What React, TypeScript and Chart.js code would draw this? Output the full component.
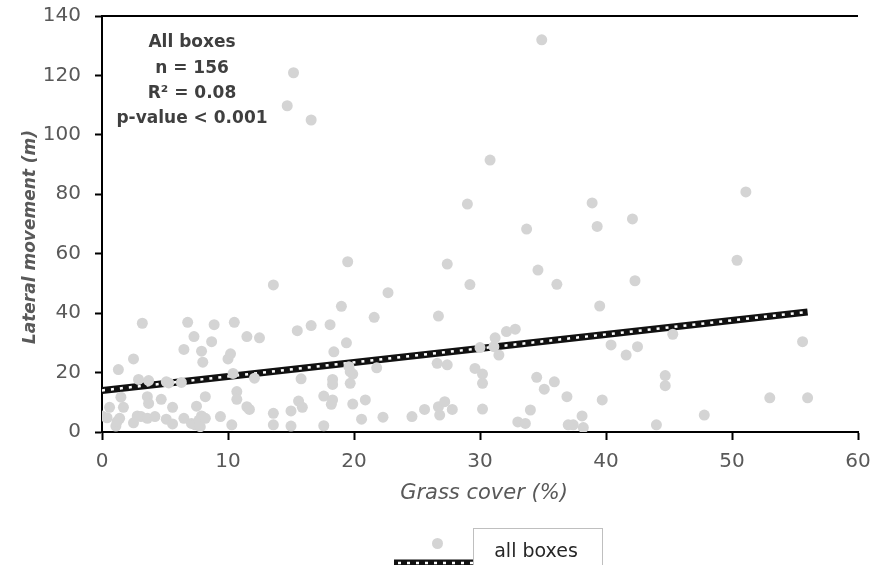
import { useEffect, useRef } from 'react';
import { Chart, registerables } from 'chart.js';

Chart.register(...registerables);

// Grass cover (%) for each box
const grassCover: number[] = [
  34.9, 15.2, 14.7, 16.6, 30.8, 51.1, 38.9, 29.0, 42.1, 33.7, 39.3, 19.5, 50.4, 27.4, 34.6, 13.6,
  29.2, 36.1, 42.3, 22.7, 19.0, 39.5, 21.6, 26.7,
  3.2, 6.8, 8.9, 10.5, 7.3, 8.7, 11.5, 12.5, 6.5, 7.9, 8.0, 10.0, 10.2, 2.5, 1.3, 2.9, 3.7, 5.1,
  5.3, 6.3, 10.4, 12.1, 1.5, 3.6, 3.7, 4.7, 8.2, 10.7, 10.7, 11.5, 11.7, 0.6, 1.7, 5.6, 7.5, 7.9,
  0.0, 0.4, 1.4, 2.8, 3.1, 3.6, 4.2, 2.5, 1.1, 1.2, 5.1, 5.6, 6.5, 7.1, 7.4, 7.7, 8.2, 7.8, 9.4,
  10.3, 13.6, 13.6,
  15.5, 16.6, 18.1, 19.4, 18.4, 19.6, 19.9, 19.7, 21.8, 26.6, 27.4, 15.8, 18.3, 18.3, 19.7, 15.0,
  15.6, 15.9, 17.6, 18.3, 18.2, 19.9, 20.9, 15.0, 17.6, 20.6, 22.3, 24.6, 25.6, 26.7, 27.2, 26.8,
  27.8,
  32.1, 32.8, 31.2, 30.0, 31.1, 31.5, 40.4, 41.6, 42.5, 29.6, 30.2, 30.2, 34.5, 35.9, 35.1, 36.9,
  39.7, 30.2, 34.0, 33.0, 33.6, 37.0, 37.4, 38.1, 38.2, 44.0,
  45.3, 55.6, 44.7, 44.7, 47.8, 53.0, 56.0,
];

// Lateral movement (m) for each box
const lateralMovement: number[] = [
  132.0, 120.9, 109.8, 105.0, 91.5, 80.8, 77.1, 76.7, 71.7, 68.3, 69.2, 57.3, 57.8, 56.5, 54.5, 49.5,
  49.6, 49.7, 50.9, 46.9, 42.3, 42.4, 38.6, 39.0,
  36.6, 36.9, 36.1, 36.9, 32.1, 30.4, 32.1, 31.7, 27.8, 27.2, 23.5, 24.6, 26.3, 24.6, 21.0, 17.7,
  17.3, 16.9, 16.5, 16.7, 19.7, 18.1, 11.7, 11.9, 9.6, 11.0, 11.9, 13.6, 11.0, 8.5, 7.6, 8.3, 8.3,
  8.3, 8.7, 5.4, 5.4, 4.8, 4.6, 5.4, 5.2, 4.6, 5.2, 3.1, 2.0, 3.5, 4.3, 2.7, 4.6, 2.9, 2.4, 4.0,
  4.6, 1.8, 5.2, 2.4, 6.3, 2.4,
  34.1, 35.8, 36.1, 30.0, 27.0, 22.0, 19.5, 20.3, 21.6, 23.1, 22.6, 17.9, 17.7, 16.0, 16.4, 7.1,
  10.4, 8.3, 12.1, 10.8, 9.3, 9.4, 10.8, 2.0, 2.1, 4.3, 5.0, 5.2, 7.6, 8.5, 10.2, 5.7, 7.6,
  33.8, 34.6, 31.7, 28.4, 28.7, 25.9, 29.3, 25.9, 28.7, 21.4, 19.5, 16.4, 18.4, 16.9, 14.4, 11.9,
  10.8, 7.7, 7.4, 3.4, 2.9, 2.4, 2.4, 5.4, 1.5, 2.4,
  32.9, 30.4, 19.0, 15.6, 5.7, 11.5, 11.5,
];

// Linear trend line end points
const trendX: number[] = [0, 56];
const trendY: number[] = [14.0, 40.4];

const xRange: number[] = [0, 60, 10];
const yRange: number[] = [0, 140, 20];

const annotationLines: string[] = ['All boxes', 'n = 156', 'R\u00b2 = 0.08', 'p-value < 0.001'];
const xTitle = 'Grass cover (%)';
const yTitle = 'Lateral movement (m)';
const legendLabel = 'all boxes';

const FONT = '"DejaVu Sans", "Liberation Sans", sans-serif';
const POINT_COLOR = '#d4d4d4';
const AXIS_TEXT = '#595959';

const overlay = {
  id: 'overlay',
  afterDraw(chart: any) {
    const { ctx, chartArea } = chart;
    const { left, right, top } = chartArea;
    ctx.save();
    // top border
    ctx.strokeStyle = '#000';
    ctx.lineWidth = 2;
    ctx.beginPath();
    ctx.moveTo(left - 1, top);
    ctx.lineTo(right, top);
    ctx.stroke();

    // annotation
    ctx.fillStyle = '#3f3f3f';
    ctx.font = `bold 17px ${FONT}`;
    ctx.textAlign = 'center';
    ctx.textBaseline = 'alphabetic';
    const baselines = [47, 72.5, 98, 123];
    annotationLines.forEach((t, i) => ctx.fillText(t, 192, baselines[i]));

    // axis titles
    ctx.fillStyle = AXIS_TEXT;
    ctx.font = `italic 21px ${FONT}`;
    ctx.textBaseline = 'middle';
    ctx.fillText(xTitle, 484, 494);
    ctx.save();
    ctx.translate(31, 237);
    ctx.rotate(-Math.PI / 2);
    ctx.font = `italic bold 17px ${FONT}`;
    ctx.fillText(yTitle, 0, 0);
    ctx.restore();

    // legend
    ctx.strokeStyle = '#bfbfbf';
    ctx.lineWidth = 1;
    ctx.strokeRect(473.5, 528.5, 129, 40);
    ctx.fillStyle = '#262626';
    ctx.font = `19px ${FONT}`;
    ctx.textBaseline = 'alphabetic';
    ctx.fillText(legendLabel, 536, 557);
    ctx.fillStyle = POINT_COLOR;
    ctx.beginPath();
    ctx.arc(437.5, 543.5, 5.5, 0, Math.PI * 2);
    ctx.fill();
    ctx.strokeStyle = '#111';
    ctx.lineWidth = 7;
    ctx.beginPath();
    ctx.moveTo(394, 563);
    ctx.lineTo(473, 563);
    ctx.stroke();
    ctx.strokeStyle = '#fff';
    ctx.lineWidth = 2.5;
    ctx.setLineDash([3, 6]);
    ctx.beginPath();
    ctx.moveTo(398, 563);
    ctx.lineTo(473, 563);
    ctx.stroke();
    ctx.restore();
  },
};

export default function App() {
  const ref = useRef<HTMLCanvasElement>(null);
  useEffect(() => {
    const points = grassCover.map((x, i) => ({ x, y: lateralMovement[i] }));
    const trend = trendX.map((x, i) => ({ x, y: trendY[i] }));
    const chart = new Chart(ref.current as HTMLCanvasElement, {
      type: 'scatter',
      data: {
        datasets: [
          {
            label: legendLabel,
            data: points,
            backgroundColor: POINT_COLOR,
            borderColor: POINT_COLOR,
            pointRadius: 5.5,
            pointBorderWidth: 0,
            order: 0,
          },
          {
            label: 'trend',
            data: trend,
            showLine: true,
            borderColor: '#111',
            borderWidth: 7,
            pointRadius: 0,
            order: 2,
          },
          {
            label: 'trend dots',
            data: trend,
            showLine: true,
            borderColor: '#fff',
            borderWidth: 2.5,
            borderDash: [3, 6],
            pointRadius: 0,
            order: 1,
          },
        ],
      },
      options: {
        animation: false,
        responsive: false,
        devicePixelRatio: 1,
        layout: { padding: { top: 16, right: 21, left: 0, bottom: 0 } },
        plugins: { legend: { display: false }, tooltip: { enabled: false } },
        scales: {
          x: {
            type: 'linear',
            min: xRange[0],
            max: xRange[1],
            ticks: { stepSize: xRange[2], color: AXIS_TEXT, font: { family: FONT, size: 20 }, padding: 10, maxRotation: 0 },
            grid: { display: true, drawOnChartArea: false, tickLength: 8, tickColor: '#000', tickWidth: 2 },
            border: { display: true, color: '#000', width: 2 },
            afterFit: (s: any) => {
              s.height = 133;
              s.paddingLeft = 0;
              s.paddingRight = 0;
            },
          },
          y: {
            type: 'linear',
            min: yRange[0],
            max: yRange[1],
            ticks: { stepSize: yRange[2], color: AXIS_TEXT, font: { family: FONT, size: 20 }, padding: 14 },
            grid: { display: true, drawOnChartArea: false, tickLength: 7, tickColor: '#000', tickWidth: 2 },
            border: { display: true, color: '#000', width: 2 },
            afterFit: (s: any) => {
              s.width = 102;
              s.paddingTop = 0;
              s.paddingBottom = 0;
            },
          },
        },
      },
      plugins: [overlay],
    } as any);
    return () => chart.destroy();
  }, []);
  return (
    <div style={{ position: 'fixed', left: 0, top: 0, width: 879, height: 565, background: '#fff' }}>
      <canvas ref={ref} width={879} height={565} style={{ width: 879, height: 565 }} />
    </div>
  );
}
